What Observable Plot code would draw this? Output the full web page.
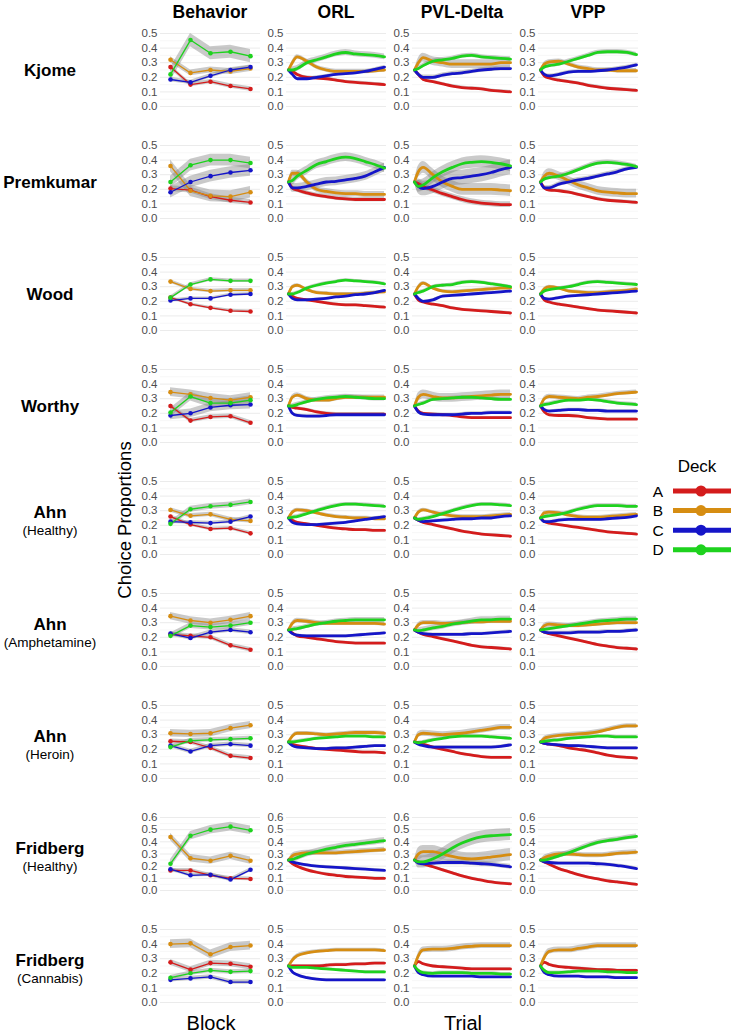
<!DOCTYPE html>
<html><head><meta charset="utf-8">
<script src="https://cdn.jsdelivr.net/npm/d3@7"></script>
<script src="https://cdn.jsdelivr.net/npm/@observablehq/plot@0.6"></script>
<style>
body{margin:0;background:#fff;font-family:"Liberation Sans",Arial,Helvetica,sans-serif;}
#root{position:relative;width:734px;height:1035px;overflow:hidden;background:#fff;}
#root svg{position:absolute;}
</style></head><body><div id="root"></div>
<script>
// ---------------- data ----------------
const studyNames  = ["Kjome","Premkumar","Wood","Worthy","Ahn","Ahn","Ahn","Fridberg","Fridberg"];
const studyGroups = ["","","","","(Healthy)","(Amphetamine)","(Heroin)","(Healthy)","(Cannabis)"];
const columns = ["Behavior","ORL","PVL-Delta","VPP"];
const decks = ["A","B","C","D"];
const deckColors = ["#d41c1c","#d68d12","#1515c8","#1ed21e"];
const blocks = [1,2,3,4,5];
const trials = [1,5,10,20,30,40,50,60,70,80,90,100];
const yMax = [0.5,0.5,0.5,0.5,0.5,0.5,0.5,0.6,0.5];
const yTicks = [0,0.1,0.2,0.3,0.4,0.5,0.6];
const yMinor = [0.05,0.15,0.25,0.35,0.45,0.55];
const xTitles = ["Block","Trial"];
const yTitle = "Choice Proportions";
const legendTitle = "Deck";

// Behavior: block means per study (rows) for each deck
const behaviorA = [
 [0.27,0.15,0.17,0.14,0.12],
 [0.205,0.195,0.15,0.125,0.11],
 [0.225,0.18,0.155,0.135,0.13],
 [0.25,0.15,0.175,0.18,0.135],
 [0.26,0.205,0.175,0.18,0.145],
 [0.22,0.21,0.20,0.145,0.115],
 [0.255,0.25,0.21,0.155,0.14],
 [0.165,0.165,0.125,0.10,0.095],
 [0.275,0.225,0.27,0.265,0.245]
];
const behaviorB = [
 [0.32,0.23,0.25,0.24,0.26],
 [0.36,0.19,0.155,0.15,0.18],
 [0.335,0.285,0.27,0.275,0.275],
 [0.345,0.33,0.305,0.29,0.31],
 [0.305,0.265,0.275,0.24,0.23],
 [0.345,0.315,0.30,0.32,0.345],
 [0.31,0.305,0.31,0.345,0.365],
 [0.44,0.265,0.245,0.285,0.245],
 [0.40,0.405,0.33,0.38,0.39]
];
const behaviorC = [
 [0.185,0.165,0.21,0.25,0.27],
 [0.18,0.25,0.29,0.315,0.33],
 [0.205,0.22,0.22,0.245,0.25],
 [0.185,0.20,0.24,0.255,0.26],
 [0.225,0.22,0.215,0.225,0.26],
 [0.225,0.195,0.235,0.25,0.235],
 [0.225,0.185,0.225,0.235,0.225],
 [0.175,0.125,0.13,0.09,0.17],
 [0.155,0.165,0.175,0.14,0.14]
];
const behaviorD = [
 [0.22,0.455,0.365,0.375,0.345],
 [0.25,0.365,0.40,0.40,0.38],
 [0.225,0.315,0.35,0.34,0.34],
 [0.205,0.315,0.27,0.27,0.29],
 [0.21,0.31,0.33,0.34,0.36],
 [0.21,0.28,0.27,0.28,0.30],
 [0.215,0.26,0.265,0.27,0.275],
 [0.22,0.45,0.50,0.525,0.495],
 [0.17,0.20,0.22,0.21,0.215]
];
// ribbon half-widths [A,B,C,D] per study
const behaviorBand = [
 [0.015,0.02,0.015,0.045],
 [0.02,0.04,0.04,0.04],
 [0.01,0.012,0.01,0.012],
 [0.015,0.03,0.03,0.03],
 [0.012,0.015,0.012,0.02],
 [0.015,0.025,0.015,0.02],
 [0.015,0.025,0.015,0.015],
 [0.015,0.03,0.015,0.035],
 [0.02,0.03,0.015,0.015]
];

// ORL posterior predictions at the trials above
const orlA = [
 [0.25,0.24,0.22,0.20,0.195,0.19,0.18,0.17,0.165,0.16,0.155,0.15],
 [0.25,0.21,0.195,0.175,0.16,0.15,0.14,0.135,0.13,0.13,0.13,0.13],
 [0.25,0.235,0.22,0.21,0.20,0.19,0.18,0.175,0.175,0.17,0.165,0.16],
 [0.25,0.24,0.235,0.225,0.21,0.20,0.195,0.195,0.195,0.195,0.195,0.195],
 [0.25,0.235,0.22,0.21,0.20,0.19,0.18,0.175,0.17,0.17,0.165,0.165],
 [0.25,0.23,0.21,0.20,0.19,0.18,0.17,0.165,0.16,0.16,0.16,0.16],
 [0.25,0.235,0.225,0.215,0.205,0.20,0.195,0.19,0.185,0.18,0.18,0.175],
 [0.25,0.22,0.20,0.17,0.15,0.135,0.125,0.115,0.11,0.105,0.10,0.10],
 [0.25,0.25,0.25,0.25,0.25,0.255,0.26,0.26,0.265,0.265,0.27,0.27]
];
const orlB = [
 [0.25,0.30,0.34,0.31,0.27,0.25,0.24,0.24,0.24,0.24,0.245,0.25],
 [0.25,0.31,0.31,0.25,0.20,0.185,0.175,0.17,0.17,0.165,0.165,0.165],
 [0.25,0.30,0.31,0.28,0.26,0.255,0.25,0.25,0.25,0.255,0.26,0.265],
 [0.25,0.31,0.325,0.30,0.29,0.29,0.30,0.31,0.31,0.31,0.31,0.31],
 [0.25,0.29,0.305,0.30,0.285,0.27,0.26,0.255,0.25,0.25,0.245,0.245],
 [0.25,0.295,0.315,0.31,0.30,0.295,0.295,0.295,0.295,0.295,0.295,0.29],
 [0.25,0.29,0.31,0.31,0.305,0.30,0.305,0.31,0.315,0.315,0.315,0.31],
 [0.25,0.285,0.30,0.31,0.31,0.31,0.31,0.315,0.32,0.325,0.33,0.335],
 [0.25,0.29,0.32,0.34,0.35,0.355,0.36,0.36,0.36,0.36,0.36,0.355]
];
const orlC = [
 [0.25,0.22,0.19,0.19,0.20,0.21,0.22,0.225,0.23,0.24,0.255,0.27],
 [0.25,0.21,0.21,0.22,0.235,0.25,0.255,0.265,0.275,0.29,0.32,0.35],
 [0.25,0.22,0.21,0.21,0.215,0.22,0.23,0.235,0.245,0.25,0.26,0.275],
 [0.25,0.20,0.185,0.18,0.18,0.185,0.19,0.19,0.19,0.19,0.19,0.19],
 [0.25,0.22,0.21,0.205,0.205,0.21,0.215,0.22,0.23,0.24,0.25,0.26],
 [0.25,0.225,0.215,0.21,0.21,0.21,0.21,0.21,0.215,0.22,0.225,0.23],
 [0.25,0.225,0.215,0.21,0.205,0.205,0.21,0.21,0.215,0.22,0.225,0.225],
 [0.25,0.235,0.225,0.21,0.20,0.195,0.19,0.185,0.18,0.175,0.17,0.165],
 [0.25,0.21,0.19,0.17,0.16,0.155,0.155,0.155,0.155,0.155,0.155,0.155]
];
const orlD = [
 [0.25,0.25,0.26,0.30,0.32,0.34,0.36,0.37,0.36,0.355,0.35,0.34],
 [0.25,0.26,0.29,0.33,0.37,0.39,0.41,0.42,0.41,0.39,0.37,0.345],
 [0.25,0.25,0.26,0.29,0.31,0.325,0.335,0.345,0.34,0.335,0.33,0.32],
 [0.25,0.25,0.26,0.28,0.295,0.305,0.31,0.315,0.31,0.305,0.30,0.30],
 [0.25,0.255,0.26,0.28,0.30,0.32,0.335,0.345,0.345,0.34,0.335,0.33],
 [0.25,0.255,0.26,0.275,0.29,0.30,0.31,0.315,0.32,0.32,0.32,0.32],
 [0.25,0.25,0.255,0.265,0.275,0.28,0.285,0.29,0.29,0.29,0.285,0.285],
 [0.25,0.255,0.27,0.30,0.32,0.34,0.355,0.37,0.38,0.39,0.40,0.41],
 [0.25,0.24,0.24,0.24,0.235,0.23,0.225,0.22,0.215,0.21,0.21,0.21]
];
const orlBand = [
 [0.01,0.015,0.01,0.02],
 [0.015,0.02,0.03,0.03],
 [0.008,0.01,0.008,0.01],
 [0.01,0.015,0.01,0.015],
 [0.008,0.012,0.008,0.012],
 [0.008,0.015,0.008,0.015],
 [0.008,0.012,0.008,0.01],
 [0.01,0.02,0.01,0.025],
 [0.008,0.012,0.008,0.008]
];

// PVL-Delta
const pvlA = [
 [0.25,0.22,0.185,0.17,0.155,0.14,0.13,0.125,0.12,0.11,0.105,0.10],
 [0.25,0.24,0.22,0.195,0.17,0.15,0.13,0.115,0.105,0.10,0.095,0.095],
 [0.25,0.21,0.195,0.18,0.17,0.155,0.145,0.14,0.135,0.13,0.125,0.12],
 [0.25,0.215,0.20,0.195,0.19,0.185,0.175,0.17,0.17,0.17,0.17,0.17],
 [0.25,0.235,0.22,0.205,0.19,0.175,0.16,0.15,0.14,0.135,0.13,0.125],
 [0.25,0.235,0.22,0.205,0.19,0.175,0.16,0.145,0.135,0.13,0.125,0.12],
 [0.25,0.245,0.235,0.215,0.20,0.185,0.17,0.16,0.15,0.145,0.145,0.145],
 [0.25,0.235,0.22,0.195,0.17,0.145,0.12,0.10,0.085,0.07,0.06,0.055],
 [0.25,0.28,0.265,0.25,0.245,0.24,0.235,0.23,0.23,0.23,0.23,0.23]
];
const pvlB = [
 [0.25,0.30,0.335,0.31,0.30,0.29,0.29,0.29,0.29,0.29,0.30,0.30],
 [0.25,0.32,0.35,0.30,0.25,0.22,0.20,0.20,0.20,0.20,0.195,0.19],
 [0.25,0.30,0.325,0.29,0.27,0.265,0.27,0.275,0.28,0.285,0.29,0.29],
 [0.25,0.31,0.33,0.315,0.305,0.305,0.31,0.315,0.32,0.325,0.33,0.33],
 [0.25,0.29,0.305,0.29,0.275,0.265,0.26,0.26,0.26,0.265,0.27,0.275],
 [0.25,0.285,0.30,0.30,0.295,0.295,0.30,0.305,0.305,0.31,0.31,0.31],
 [0.25,0.30,0.31,0.305,0.30,0.305,0.31,0.32,0.33,0.34,0.35,0.35],
 [0.25,0.30,0.32,0.32,0.30,0.28,0.265,0.26,0.265,0.275,0.285,0.295],
 [0.25,0.32,0.36,0.365,0.365,0.37,0.38,0.385,0.39,0.39,0.39,0.39]
];
const pvlC = [
 [0.25,0.22,0.20,0.20,0.215,0.225,0.23,0.24,0.25,0.255,0.26,0.26],
 [0.25,0.22,0.205,0.22,0.25,0.275,0.28,0.29,0.30,0.315,0.335,0.35],
 [0.25,0.22,0.20,0.21,0.235,0.24,0.245,0.25,0.255,0.26,0.265,0.27],
 [0.25,0.21,0.195,0.19,0.19,0.19,0.195,0.20,0.20,0.205,0.205,0.205],
 [0.25,0.235,0.225,0.23,0.235,0.24,0.245,0.245,0.25,0.25,0.26,0.265],
 [0.25,0.235,0.225,0.22,0.22,0.22,0.22,0.225,0.225,0.23,0.235,0.24],
 [0.25,0.235,0.225,0.215,0.215,0.215,0.215,0.215,0.215,0.215,0.22,0.23],
 [0.25,0.225,0.22,0.225,0.23,0.23,0.23,0.225,0.22,0.215,0.205,0.195],
 [0.25,0.205,0.19,0.18,0.18,0.18,0.18,0.18,0.175,0.175,0.175,0.175]
];
const pvlD = [
 [0.25,0.26,0.28,0.31,0.32,0.33,0.345,0.35,0.34,0.335,0.33,0.325],
 [0.25,0.22,0.23,0.28,0.32,0.35,0.375,0.385,0.39,0.385,0.375,0.36],
 [0.25,0.26,0.27,0.30,0.31,0.315,0.33,0.335,0.33,0.32,0.31,0.30],
 [0.25,0.26,0.27,0.295,0.30,0.305,0.31,0.31,0.305,0.30,0.295,0.295],
 [0.25,0.24,0.245,0.26,0.28,0.30,0.32,0.335,0.345,0.345,0.34,0.335],
 [0.25,0.245,0.25,0.265,0.275,0.29,0.30,0.31,0.32,0.32,0.325,0.325],
 [0.25,0.245,0.25,0.265,0.275,0.285,0.29,0.29,0.29,0.285,0.28,0.275],
 [0.25,0.235,0.235,0.26,0.30,0.35,0.39,0.42,0.44,0.45,0.455,0.46],
 [0.25,0.22,0.205,0.20,0.205,0.205,0.205,0.20,0.20,0.20,0.195,0.195]
];
const pvlBand = [
 [0.01,0.03,0.015,0.015],
 [0.02,0.04,0.05,0.04],
 [0.008,0.01,0.008,0.01],
 [0.008,0.03,0.01,0.012],
 [0.008,0.012,0.01,0.012],
 [0.008,0.015,0.01,0.02],
 [0.008,0.02,0.01,0.01],
 [0.01,0.05,0.02,0.05],
 [0.008,0.02,0.008,0.01]
];

// VPP
const vppA = [
 [0.25,0.21,0.195,0.18,0.17,0.16,0.145,0.135,0.125,0.12,0.115,0.11],
 [0.25,0.21,0.195,0.19,0.18,0.165,0.15,0.135,0.125,0.12,0.115,0.11],
 [0.25,0.21,0.195,0.18,0.17,0.16,0.15,0.14,0.135,0.13,0.125,0.12],
 [0.25,0.21,0.19,0.185,0.185,0.18,0.17,0.165,0.16,0.16,0.16,0.16],
 [0.25,0.225,0.215,0.205,0.195,0.185,0.175,0.165,0.155,0.15,0.145,0.14],
 [0.25,0.235,0.225,0.21,0.195,0.18,0.165,0.15,0.14,0.13,0.125,0.12],
 [0.25,0.24,0.235,0.225,0.21,0.20,0.19,0.175,0.16,0.15,0.145,0.14],
 [0.25,0.235,0.215,0.18,0.155,0.13,0.11,0.095,0.08,0.07,0.06,0.05],
 [0.25,0.275,0.26,0.245,0.24,0.235,0.23,0.225,0.225,0.22,0.22,0.22]
];
const vppB = [
 [0.25,0.29,0.305,0.31,0.29,0.27,0.26,0.25,0.25,0.245,0.245,0.245],
 [0.25,0.29,0.31,0.29,0.26,0.23,0.21,0.19,0.18,0.175,0.17,0.17],
 [0.25,0.285,0.30,0.29,0.27,0.265,0.26,0.26,0.265,0.27,0.275,0.285],
 [0.25,0.30,0.315,0.31,0.305,0.30,0.31,0.315,0.325,0.335,0.34,0.345],
 [0.25,0.285,0.29,0.285,0.27,0.26,0.255,0.255,0.26,0.265,0.27,0.275],
 [0.25,0.28,0.29,0.285,0.28,0.28,0.285,0.29,0.295,0.30,0.30,0.30],
 [0.25,0.275,0.285,0.295,0.30,0.305,0.31,0.32,0.335,0.35,0.36,0.36],
 [0.25,0.27,0.285,0.30,0.30,0.295,0.29,0.29,0.295,0.305,0.31,0.315],
 [0.25,0.31,0.35,0.36,0.36,0.37,0.38,0.39,0.39,0.39,0.39,0.39]
];
const vppC = [
 [0.25,0.22,0.21,0.22,0.235,0.24,0.24,0.245,0.25,0.26,0.27,0.285],
 [0.25,0.21,0.21,0.235,0.25,0.265,0.275,0.29,0.305,0.32,0.34,0.35],
 [0.25,0.22,0.215,0.225,0.235,0.24,0.245,0.25,0.255,0.26,0.265,0.27],
 [0.25,0.225,0.215,0.22,0.225,0.225,0.22,0.22,0.215,0.215,0.215,0.215],
 [0.25,0.225,0.225,0.235,0.24,0.24,0.24,0.24,0.245,0.25,0.255,0.265],
 [0.25,0.235,0.23,0.23,0.23,0.235,0.235,0.235,0.24,0.24,0.245,0.25],
 [0.25,0.24,0.235,0.23,0.225,0.225,0.22,0.215,0.21,0.21,0.21,0.21],
 [0.25,0.235,0.23,0.225,0.225,0.225,0.225,0.22,0.215,0.205,0.195,0.18],
 [0.25,0.205,0.19,0.18,0.18,0.18,0.175,0.175,0.175,0.17,0.17,0.17]
];
const vppD = [
 [0.25,0.27,0.28,0.29,0.31,0.33,0.35,0.37,0.375,0.375,0.37,0.355],
 [0.25,0.27,0.28,0.29,0.31,0.335,0.36,0.38,0.385,0.38,0.37,0.355],
 [0.25,0.27,0.28,0.29,0.30,0.315,0.33,0.335,0.33,0.325,0.32,0.315],
 [0.25,0.26,0.265,0.28,0.29,0.29,0.295,0.29,0.28,0.27,0.265,0.26],
 [0.25,0.26,0.265,0.275,0.29,0.31,0.325,0.335,0.335,0.335,0.33,0.33],
 [0.25,0.255,0.26,0.27,0.28,0.29,0.30,0.31,0.315,0.32,0.325,0.325],
 [0.25,0.255,0.26,0.265,0.275,0.28,0.285,0.29,0.29,0.285,0.285,0.285],
 [0.25,0.25,0.26,0.285,0.31,0.34,0.37,0.395,0.41,0.42,0.435,0.445],
 [0.25,0.22,0.205,0.205,0.21,0.215,0.215,0.215,0.21,0.21,0.205,0.205]
];
const vppBand = [
 [0.01,0.015,0.012,0.015],
 [0.01,0.03,0.015,0.015],
 [0.008,0.01,0.008,0.01],
 [0.008,0.015,0.01,0.012],
 [0.008,0.012,0.01,0.012],
 [0.008,0.015,0.012,0.015],
 [0.008,0.015,0.008,0.01],
 [0.01,0.02,0.012,0.02],
 [0.008,0.02,0.008,0.01]
];

// ---------------- layout ----------------
const FONT = '"Liberation Sans", Arial, Helvetica, sans-serif';
const root = document.getElementById("root");
const colLeft = [160, 286, 412, 538];
const plotW = 100, plotH = 73, rowStep = 112, firstTop = 33;
const mL = 30, mR = 4, mT = 6, mB = 6;

const behaviorByDeck = {A: behaviorA, B: behaviorB, C: behaviorC, D: behaviorD};
const models = [
  {A: orlA, B: orlB, C: orlC, D: orlD, band: orlBand},
  {A: pvlA, B: pvlB, C: pvlC, D: pvlD, band: pvlBand},
  {A: vppA, B: vppB, C: vppC, D: vppD, band: vppBand}
];

function panel(rows, xDomain, ymax, isBehavior) {
  const ticks = yTicks.filter(t => t <= ymax + 1e-9);
  const minor = yMinor.filter(t => t < ymax);
  const curve = isBehavior ? "linear" : "monotone-x";
  return Plot.plot({
    width: mL + plotW + mR, height: mT + plotH + mB,
    marginLeft: mL, marginRight: mR, marginTop: mT, marginBottom: mB,
    style: {background: "transparent", overflow: "visible", fontFamily: FONT, fontSize: "11.5px", color: "#4d4d4d"},
    x: {domain: xDomain, axis: null},
    y: {domain: [0, ymax], ticks: ticks.length - 1, tickFormat: ".1f", tickSize: 0, tickPadding: 3, label: null},
    color: {domain: decks, range: deckColors},
    marks: [
      Plot.ruleY(minor, {stroke: "#f3f3f3", strokeWidth: 0.7}),
      Plot.ruleY(ticks, {stroke: "#ebebeb", strokeWidth: 1}),
      Plot.areaY(rows, {x: "x", y1: "lo", y2: "hi", z: "deck", fill: "#808080", fillOpacity: 0.42, curve}),
      Plot.line(rows, {x: "x", y: "y", z: "deck", stroke: "deck", strokeWidth: isBehavior ? 1.3 : 2.8, curve}),
      isBehavior ? Plot.dot(rows, {x: "x", y: "y", fill: "deck", r: 2.3}) : null
    ]
  });
}

function place(el, left, top) {
  el.style.position = "absolute";
  el.style.left = left + "px";
  el.style.top = top + "px";
  root.appendChild(el);
}

studyNames.forEach((name, i) => {
  const top = firstTop + rowStep * i;
  const ymax = yMax[i];
  // Behavior column
  const bRows = [];
  decks.forEach((d, k) => {
    const vals = behaviorByDeck[d][i];
    const hw = behaviorBand[i][k];
    blocks.forEach((b, j) => bRows.push({deck: d, x: b, y: vals[j], lo: vals[j] - hw, hi: vals[j] + hw}));
  });
  place(panel(bRows, [0.5, 5.5], ymax, true), colLeft[0] - mL, top - mT);
  // model columns
  models.forEach((m, c) => {
    const rows = [];
    decks.forEach((d, k) => {
      const vals = m[d][i];
      const hw = m.band[i][k];
      trials.forEach((t, j) => {
        const h = t === 1 ? 0 : hw; // all decks start at a fixed 0.25
        rows.push({deck: d, x: t, y: vals[j], lo: vals[j] - h, hi: vals[j] + h});
      });
    });
    place(panel(rows, [-1, 102], ymax, false), colLeft[c + 1] - mL, top - mT);
  });
});

// ---------------- text overlay ----------------
const svg = d3.create("svg").attr("width", 734).attr("height", 1035)
  .style("left", "0px").style("top", "0px").style("font-family", FONT);
root.appendChild(svg.node());

columns.forEach((c, k) => {
  svg.append("text").attr("x", colLeft[k] + plotW / 2).attr("y", 18)
    .attr("text-anchor", "middle").attr("font-size", 17.5).attr("font-weight", "bold").text(c);
});

studyNames.forEach((n, i) => {
  const top = firstTop + rowStep * i;
  if (studyGroups[i]) {
    svg.append("text").attr("x", 50).attr("y", top + 37).attr("text-anchor", "middle")
      .attr("font-size", 17).attr("font-weight", "bold").text(n);
    svg.append("text").attr("x", 50).attr("y", top + 54).attr("text-anchor", "middle")
      .attr("font-size", 13.5).text(studyGroups[i]);
  } else {
    svg.append("text").attr("x", 50).attr("y", top + 43).attr("text-anchor", "middle")
      .attr("font-size", 17).attr("font-weight", "bold").text(n);
  }
});

svg.append("text").attr("transform", "translate(131,520) rotate(-90)")
  .attr("text-anchor", "middle").attr("font-size", 18.5).text(yTitle);
svg.append("text").attr("x", colLeft[0] + plotW / 2 + 1).attr("y", 1030)
  .attr("text-anchor", "middle").attr("font-size", 20).text(xTitles[0]);
svg.append("text").attr("x", colLeft[2] + plotW / 2 + 1).attr("y", 1030)
  .attr("text-anchor", "middle").attr("font-size", 20).text(xTitles[1]);

// legend
svg.append("text").attr("x", 697).attr("y", 472).attr("text-anchor", "middle")
  .attr("font-size", 17).text(legendTitle);
decks.forEach((d, k) => {
  const cy = 491 + k * 19.6;
  svg.append("text").attr("x", 658).attr("y", cy + 5.5).attr("text-anchor", "middle")
    .attr("font-size", 15.5).text(d);
  svg.append("line").attr("x1", 673).attr("x2", 731).attr("y1", cy).attr("y2", cy)
    .attr("stroke", deckColors[k]).attr("stroke-width", 5);
  svg.append("circle").attr("cx", 701).attr("cy", cy).attr("r", 5.5).attr("fill", deckColors[k]);
});
</script></body></html>
